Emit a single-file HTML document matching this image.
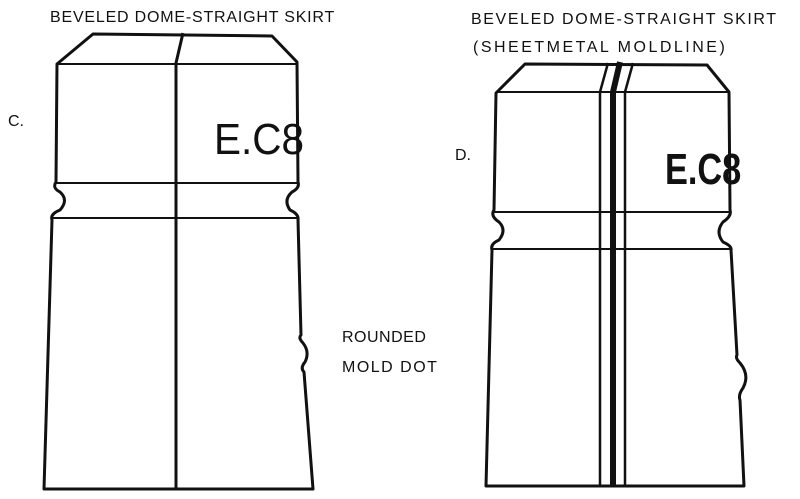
<!DOCTYPE html>
<html><head><style>
html,body{margin:0;padding:0;background:#fff;}
svg{display:block;}
text{font-family:"Liberation Sans",sans-serif;fill:#111;}
</style></head><body>
<svg width="800" height="499" viewBox="0 0 800 499" xmlns="http://www.w3.org/2000/svg">
<g fill="none" stroke="#111" stroke-width="3" stroke-linejoin="round">
<!-- Left insulator C -->
<path d="M93,34 L272,36 L297,62 L298,182 Q300,188 292,192 Q283,200 290,210 Q299,214 298,220 L301,335 Q298,338 303,343 Q310,352 305,362 Q300,368 304,372 L313,489 L44,489 L52,220 Q50,214 60,210 Q69,200 60,192 Q52,188 56,182 L57,64 Z"/>
<line x1="58" y1="64" x2="297" y2="64" stroke-width="2"/>
<line x1="56" y1="183" x2="298" y2="183" stroke-width="2"/>
<line x1="52" y1="218" x2="299" y2="218" stroke-width="2"/>
<path d="M183,33 L176,63 L176,489"/>
<!-- Right insulator D -->
<path d="M525,64 L707,65 L729,92 L730,210 Q732,216 723,222 Q715,232 723,242 Q732,246 731,250 L737,355 Q735,358 740,363 Q750,375 743,388 Q738,395 740,400 L744,486 L486,486 L492,250 Q490,244 499,240 Q507,230 499,222 Q490,216 494,210 L496,93 Z"/>
<line x1="497" y1="92" x2="729" y2="92" stroke-width="2"/>
<line x1="494" y1="212" x2="730" y2="212" stroke-width="2"/>
<line x1="492" y1="249" x2="731" y2="249" stroke-width="2"/>
<path d="M608,63 L600,92 L600,486" stroke-width="2.5"/>
<path d="M633,63 L625,92 L625,486" stroke-width="2.5"/>
<path d="M620,62 L613,92 L613,486" stroke-width="6"/>
</g>
<text x="50" y="22" font-size="16" letter-spacing="0.8">BEVELED DOME-STRAIGHT SKIRT</text>
<text x="471" y="24" font-size="16" letter-spacing="1.6">BEVELED DOME-STRAIGHT SKIRT</text>
<text x="473" y="52" font-size="16" letter-spacing="2.5">(SHEETMETAL MOLDLINE)</text>
<text x="8" y="126" font-size="16">C.</text>
<text x="455" y="160" font-size="16">D.</text>
<text x="342" y="342" font-size="16" letter-spacing="0.5">ROUNDED</text>
<text x="342" y="372" font-size="16" letter-spacing="1.5">MOLD DOT</text>
<text x="214" y="154" font-size="44" transform="scale(0.92,1)" transform-origin="214 154" style="font-family:'Liberation Sans Narrow','Liberation Sans',sans-serif">E.C8</text>
<text x="665" y="184" font-size="44" transform="scale(0.78,1)" transform-origin="665 184" font-weight="bold" style="font-family:'Liberation Sans Narrow','Liberation Sans',sans-serif">E.C8</text>
</svg>
</body></html>
